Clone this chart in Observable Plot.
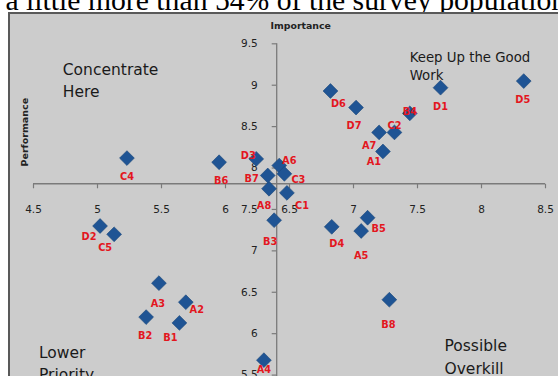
<!DOCTYPE html>
<html><head><meta charset="utf-8">
<script src="https://cdn.jsdelivr.net/npm/d3@7"></script>
<script src="https://cdn.jsdelivr.net/npm/@observablehq/plot@0.6"></script>
<style>
html,body{margin:0;padding:0;background:#fff;overflow:hidden;width:558px;height:376px}
#doc{position:absolute;left:5.5px;top:-14.5px;font-family:"Liberation Serif";font-size:29.7px;line-height:29.7px;white-space:nowrap;color:#000}
#frame{position:absolute;left:8px;top:12px;width:600px;height:500px;border-left:2px solid #595959;border-top:2px solid #595959;background:#cccccc}
#chart{position:absolute;left:0;top:0}
</style></head><body>
<div id="doc">a little more than 54% of the survey population</div>
<div id="frame"></div>
<div id="chart"></div>
<script>
// ---- data ----
const ids = ["A1","A2","A3","A4","A5","A6","A7","A8",
             "B1","B2","B3","B4","B5","B6","B7","B8",
             "C1","C2","C3","C4","C5",
             "D1","D2","D3","D4","D5","D6","D7"];
const importance = [7.23,5.69,5.48,6.30,7.06,6.42,7.20,6.34,
                    5.64,5.38,6.38,7.44,7.11,5.95,6.33,7.28,
                    6.48,7.32,6.46,5.23,5.13,
                    7.68,5.02,6.24,6.83,8.33,6.82,7.02];
const performance = [8.20,6.38,6.61,5.68,7.24,8.03,8.43,7.75,
                     6.13,6.20,7.37,8.66,7.40,8.07,7.91,6.41,
                     7.70,8.43,7.93,8.12,7.20,
                     8.97,7.30,8.11,7.29,9.05,8.93,8.73];
const xTickValues = [4.5,5,5.5,6,6.5,7,7.5,8,8.5];
const yTickValues = [5,5.5,6,6.5,7,7.5,8,8.5,9,9.5];
const meanImportance = 6.40;   // where the vertical axis crosses
const meanPerformance = 7.81;  // where the horizontal axis crosses
const quadrantLabels = ["Concentrate\nHere","Keep Up the Good\nWork","Lower\nPriority","Possible\nOverkill"];

// ---- label placement (style) ----
const labelOffset = {
  A1:[-9,10], A2:[11,8], A3:[-1,21], A4:[0,10], A5:[0,25], A6:[10,-5], A7:[-10,13], A8:[-5,17],
  B1:[-9,15], B2:[-1,19], B3:[-4,22], B4:[0,-2], B5:[11,11], B6:[2,19], B7:[-16,3], B8:[-1,25],
  C1:[15,13], C2:[0,-7], C3:[14,6], C4:[0,19], C5:[-9,14],
  D1:[0,19], D2:[-11,11], D3:[-8,-3], D4:[5,17], D5:[-1,19], D6:[8,13], D7:[-2,18]
};

const pts = ids.map((id,i)=>({id, x: importance[i], y: performance[i]}));

const diamond = {draw(ctx){const r=7.4; ctx.moveTo(0,-r); ctx.lineTo(r,0); ctx.lineTo(0,r); ctx.lineTo(-r,0); ctx.closePath();}};
const tickDown = {draw(ctx){ctx.moveTo(0,0); ctx.lineTo(0,4.5);}};
const tickLeft = {draw(ctx){ctx.moveTo(0,0); ctx.lineTo(-5,0);}};

const axisColor = "#7a7a7a";
const sans = "DejaVu Sans";
const labelMarks = pts.map(p => Plot.text([p], {
  x:"x", y:"y", text:"id", dx: labelOffset[p.id][0], dy: labelOffset[p.id][1],
  fill:"#e3161e", fontWeight:"bold", fontSize:9.8, fontFamily:sans
}));

const quad = (txt, dx, dy, fs, lh) => Plot.text([txt], {
  text: d=>d, frameAnchor:"top-left", dx, dy, textAnchor:"start", lineAnchor:"top",
  fontSize: fs, lineHeight: lh, fontFamily: sans, fill:"#1a1a1a"
});

const chart = Plot.plot({
  width: 558, height: 416,
  marginLeft: 33, marginRight: 13, marginTop: 43.3, marginBottom: 0,
  x: {domain:[4.5,8.5], axis:null},
  y: {domain:[5,9.5], axis:null},
  style: {background:"transparent", overflow:"visible"},
  marks: [
    Plot.ruleY([meanPerformance], {x1: 4.5, x2: 8.5, stroke: axisColor, strokeWidth: 1.3}),
    Plot.ruleX([meanImportance], {y1: 5, y2: 9.5, stroke: axisColor, strokeWidth: 1.3}),
    Plot.dot(xTickValues, {x: d=>d, y: meanPerformance, symbol: tickDown, r: 3, fill:"none", stroke: axisColor, strokeWidth: 1.2}),
    Plot.dot(yTickValues, {x: meanImportance, y: d=>d, symbol: tickLeft, r: 3, fill:"none", stroke: axisColor, strokeWidth: 1.2}),
    Plot.text(xTickValues, {x: d=>d, y: meanPerformance, text: d=>String(d), dy: 25.5, fontSize: 10.5, fontFamily: sans, fill:"#222"}),
    Plot.text(yTickValues, {x: meanImportance, y: d=>d, text: d=>String(d), dx: -19, textAnchor:"end", fontSize: 10.5, fontFamily: sans, fill:"#222"}),
    Plot.text(["Importance"], {text: d=>d, frameAnchor:"top-left", dx: 237, dy: -21.3, textAnchor:"start", fontWeight:"bold", fontSize: 9.4, fontFamily: sans, fill:"#222"}),
    Plot.text(["Performance"], {text: d=>d, frameAnchor:"top-left", dx: -12, dy: 122.7, rotate: -90, fontWeight:"bold", fontSize: 9.5, fontFamily: sans, fill:"#222"}),
    quad(quadrantLabels[0], 29.3, 15.4, 15.5, 1.42),
    quad(quadrantLabels[1], 376.2, 5.6, 13.3, 1.35),
    quad(quadrantLabels[2], 5.5, 298.5, 15.5, 1.42),
    quad(quadrantLabels[3], 411, 291.5, 15.5, 1.45),
    Plot.dot(pts, {x:"x", y:"y", symbol: diamond, r: 5, fill:"#1f5494", stroke:"#1a4679", strokeWidth: 0.6}),
    ...labelMarks
  ]
});
document.getElementById("chart").append(chart);
</script>
</body></html>
